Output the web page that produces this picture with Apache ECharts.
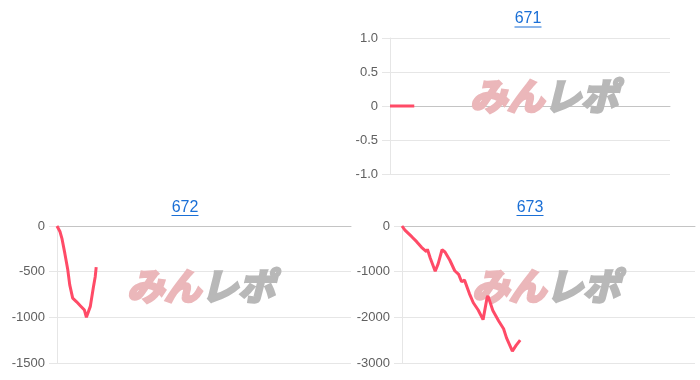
<!DOCTYPE html>
<html>
<head>
<meta charset="utf-8">
<script src="https://cdn.jsdelivr.net/npm/echarts@6/dist/echarts.min.js"></script>
<style>
html,body{margin:0;padding:0;background:#fff;}
#c{width:700px;height:380px;}
</style>
</head>
<body>
<div id="c"></div>
<script>
// ---- data ----
const titles = ['671', '672', '673'];
const x671 = [0, 26];
const y671 = [0, 0];
const x672 = [0, 3, 5, 8, 11, 13, 16, 20, 24, 28, 30, 32, 34, 37, 39, 40];
const y672 = [0, -60, -135, -300, -480, -645, -790, -830, -875, -920, -1000, -1005, -880, -680, -555, -450];
const x673 = [0, 3, 5, 10, 15, 20, 25, 26, 29, 34, 37, 41, 44, 49, 54, 58, 61, 64, 69, 73, 78, 83, 87, 88, 93, 99, 104, 107, 113, 117, 121];
const y673 = [0, -90, -124, -234, -343, -467, -560, -511, -708, -990, -830, -520, -570, -750, -980, -1060, -1220, -1185, -1480, -1680, -1840, -2050, -1580, -1530, -1850, -2080, -2250, -2450, -2740, -2610, -2500];
const yTicks671 = { min: -1, max: 1, interval: 0.5 };
const yTicks672 = { min: -1500, max: 0, interval: 500 };
const yTicks673 = { min: -3000, max: 0, interval: 1000 };
const watermarkA = 'みん';
const watermarkB = 'レポ';

const zip = (xs, ys) => xs.map((x, i) => [x, ys[i]]);

const LINE = '#ff4b67';
const GRID = '#e6e6e6';
const BLUE = '#1a6fd6';
const font = 'Arial';

const grids = [
  { left: 390, right: 30, top: 38, bottom: 206 },
  { left: 57, right: 349, top: 226, bottom: 17 },
  { left: 402, right: 5, top: 226, bottom: 17 }
];
const yCfg = [yTicks671, yTicks672, yTicks673];

const xAxes = grids.map((g, i) => ({
  type: 'value', gridIndex: i, min: 0, max: 300,
  axisLabel: { show: false }, axisTick: { show: false }, splitLine: { show: false },
  axisLine: { show: true, onZero: true, lineStyle: { color: '#c4c4c4', width: 1 } }
}));
const yAxes = yCfg.map((c, i) => ({
  type: 'value', gridIndex: i, min: c.min, max: c.max, interval: c.interval,
  axisLine: { show: true, lineStyle: { color: GRID } },
  axisTick: { show: true, length: 8, lineStyle: { color: GRID } },
  splitLine: { show: true, lineStyle: { color: GRID } },
  axisLabel: {
    margin: 12, color: '#606060', fontSize: 13, fontFamily: font,
    formatter: v => (i === 0 ? (v === 0 ? '0' : v.toFixed(1)) : String(v))
  }
}));

const datas = [zip(x671, y671), zip(x672, y672), zip(x673, y673)];
const series = datas.map((d, i) => ({
  type: 'line', xAxisIndex: i, yAxisIndex: i, data: d,
  showSymbol: false, symbol: 'none', smooth: false,
  lineStyle: { color: LINE, width: 3 }, z: 5, silent: true
}));

// title positions (centre x, middle y, underline y)
const titlePos = [[528, 19, 27], [185, 207.5, 215.5], [530, 207.5, 215.5]];
const wmPos = [[544, 96], [201, 286], [546, 286]];

const graphics = [];
titles.forEach((t, i) => {
  const [cx, cy, uy] = titlePos[i];
  graphics.push({
    type: 'text', x: cx, y: cy, z: 10,
    style: { text: t, fill: BLUE, font: '16px Arial', textAlign: 'center', textVerticalAlign: 'middle' }
  });
  graphics.push({
    type: 'line', z: 10,
    shape: { x1: cx - 13.5, y1: uy, x2: cx + 13.5, y2: uy },
    style: { stroke: BLUE, lineWidth: 1 }
  });
});
wmPos.forEach(([cx, cy]) => {
  graphics.push({
    type: 'text', x: cx, y: cy, z: 1,
    style: {
      text: '{a|' + watermarkA + '}{b|' + watermarkB + '}',
      textAlign: 'center', textVerticalAlign: 'middle',
      rich: {
        a: { fill: '#ebb7ba', stroke: '#ebb7ba', lineWidth: 3, fontSize: 37, fontWeight: 'bold', fontStyle: 'italic', fontFamily: '"Noto Sans CJK JP"' },
        b: { fill: '#b8b8b8', stroke: '#b8b8b8', lineWidth: 3, fontSize: 37, fontWeight: 'bold', fontStyle: 'italic', fontFamily: '"Noto Sans CJK JP"' }
      }
    }
  });
});

const chart = echarts.init(document.getElementById('c'), null, { renderer: 'canvas' });
chart.setOption({
  animation: false,
  backgroundColor: '#fff',
  grid: grids,
  xAxis: xAxes,
  yAxis: yAxes,
  series: series,
  graphic: graphics
});
</script>
</body>
</html>
